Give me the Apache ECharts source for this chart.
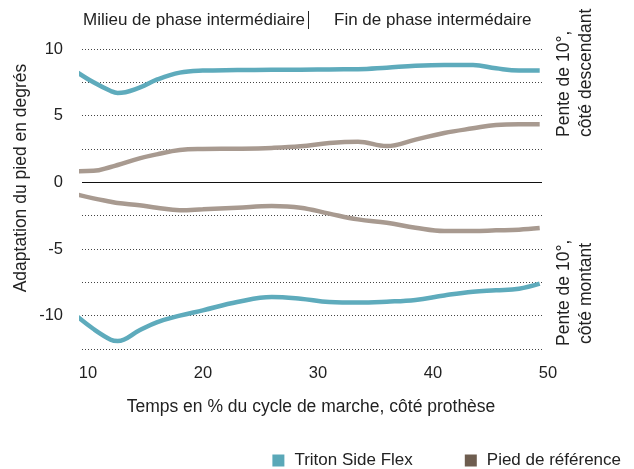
<!DOCTYPE html>
<html>
<head>
<meta charset="utf-8">
<script src="https://cdn.jsdelivr.net/npm/echarts@6/dist/echarts.min.js"></script>
<style>
html, body { margin: 0; padding: 0; background: #fff; }
#chart { width: 634px; height: 469px; }
</style>
</head>
<body>
<div id="chart"></div>
<script>
// temps en % du cycle (axe x)
const xValues = [9, 10.5, 12, 12.6, 14.5, 16, 18, 20, 23, 26, 28.5, 31, 33.5, 36, 38.5, 41, 43.5, 45.5, 47.5, 49.3];

// pente descendante
const tritonDesc = [8.3, 7.5, 6.85, 6.7, 7.1, 7.7, 8.23, 8.38, 8.42, 8.45, 8.45, 8.47, 8.48, 8.6, 8.74, 8.8, 8.8, 8.55, 8.38, 8.38];
const piedDesc = [0.84, 0.86, 1.15, 1.3, 1.8, 2.1, 2.42, 2.5, 2.52, 2.58, 2.7, 2.95, 3.05, 2.72, 3.2, 3.7, 4.05, 4.3, 4.35, 4.35];

// pente montante
const piedAsc = [-0.9, -1.2, -1.45, -1.55, -1.72, -1.9, -2.09, -2.02, -1.9, -1.78, -1.9, -2.35, -2.78, -3.03, -3.4, -3.65, -3.65, -3.6, -3.55, -3.43];
const tritonAsc = [-10.0, -11.0, -11.8, -11.9, -11.1, -10.5, -10.0, -9.6, -8.98, -8.6, -8.73, -8.98, -9.02, -8.95, -8.82, -8.48, -8.2, -8.1, -7.98, -7.6];

const xTicks = [10, 20, 30, 40, 50];
const yLabelTicks = [-10, -5, 0, 5, 10];

const TEAL = '#5eabbc';
const TEAL_LEGEND = '#5aa8b8';
const TAUPE = '#a89a90';
const TAUPE_LEGEND = '#6e5d4f';
const FONT = 'Liberation Sans, Arial, sans-serif';

function pairs(ys) {
    return xValues.map((x, i) => [x, ys[i]]);
}

function lineSeries(name, ys, color, legendColor) {
    return {
        name: name,
        type: 'line',
        data: pairs(ys),
        smooth: 0.4,
        showSymbol: false,
        symbol: 'none',
        clip: false,
        xAxisIndex: 0,
        yAxisIndex: 0,
        itemStyle: { color: legendColor },
        lineStyle: { color: color, width: 4.5 },
        z: 3
    };
}

function label(text, x, y, extra) {
    return Object.assign({
        type: 'text', x: x, y: y,
        style: { text: text, fontSize: 17.5, fontFamily: FONT, fill: '#222', align: 'left', verticalAlign: 'middle' }
    }, extra || {});
}

const chart = echarts.init(document.getElementById('chart'));

const series = [
    lineSeries('Triton Side Flex', tritonDesc, TEAL, TEAL_LEGEND),
    lineSeries('Pied de référence', piedDesc, TAUPE, TAUPE_LEGEND),
    lineSeries('Pied de référence', piedAsc, TAUPE, TAUPE_LEGEND),
    lineSeries('Triton Side Flex', tritonAsc, TEAL, TEAL_LEGEND)
];
// ligne du zéro
series[0].markLine = {
    silent: true,
    symbol: 'none',
    label: { show: false },
    lineStyle: { color: '#111', width: 1, type: 'solid' },
    data: [{ yAxis: 0 }],
    animation: false
};

const rot = { rotation: Math.PI / 2 };
const topLeft = label('Milieu de phase intermédiaire', 83, 20);
topLeft.style.fontSize = 17;
const topRight = label('Fin de phase intermédaire', 334, 20);
topRight.style.fontSize = 17;
const yTitle = label('Adaptation du pied en degrés', 21, 178, rot);
yTitle.style.align = 'center';
const xTitle = label('Temps en % du cycle de marche, côté prothèse', 311, 407);
xTitle.style.align = 'center';

chart.setOption({
    animation: false,
    textStyle: { fontFamily: FONT },
    grid: [
        { left: 82, right: 92, top: 49, bottom: 120 },
        { left: 88, right: 86, top: 49, bottom: 120 }
    ],
    xAxis: [
        {
            type: 'value', gridIndex: 0, min: 9.5, max: 49.5,
            axisLine: { show: false }, axisTick: { show: false },
            axisLabel: { show: false }, splitLine: { show: false }
        },
        {
            type: 'value', gridIndex: 1, min: 10, max: 50, interval: 10,
            axisLine: { show: false }, axisTick: { show: false },
            splitLine: { show: false },
            axisLabel: {
                customValues: xTicks,
                margin: 16, fontSize: 16.5, color: '#222', fontFamily: FONT
            }
        }
    ],
    yAxis: [
        {
            type: 'value', gridIndex: 0, min: -12.5, max: 10, interval: 2.5,
            axisLine: { show: false }, axisTick: { show: false },
            axisLabel: {
                margin: 19, fontSize: 16.5, color: '#222', fontFamily: FONT,
                formatter: (v) => (yLabelTicks.indexOf(v) >= 0 ? String(v) : '')
            },
            splitLine: { lineStyle: { color: '#444', width: 1, type: [1, 2] } }
        },
        {
            type: 'value', gridIndex: 1, min: -12.5, max: 10, show: false
        }
    ],
    legend: {
        right: 8,
        top: 447,
        icon: 'rect',
        itemWidth: 12,
        itemHeight: 12,
        itemGap: 52,
        textStyle: { fontSize: 17, color: '#222', fontFamily: FONT, padding: [0, 0, 0, 5] },
        data: [
            { name: 'Triton Side Flex', itemStyle: { color: TEAL_LEGEND } },
            { name: 'Pied de référence', itemStyle: { color: TAUPE_LEGEND } }
        ]
    },
    graphic: [
        topLeft,
        {
            type: 'line', shape: { x1: 308.5, y1: 11, x2: 308.5, y2: 29 },
            style: { stroke: '#222', lineWidth: 1 }
        },
        topRight,
        yTitle,
        xTitle,
        label('Pente de 10°,', 564, 137, rot),
        label('côté descendant', 586, 137, rot),
        label('Pente de 10°,', 564, 346, rot),
        label('côté montant', 586, 344, rot)
    ],
    series: series
});
</script>
</body>
</html>
